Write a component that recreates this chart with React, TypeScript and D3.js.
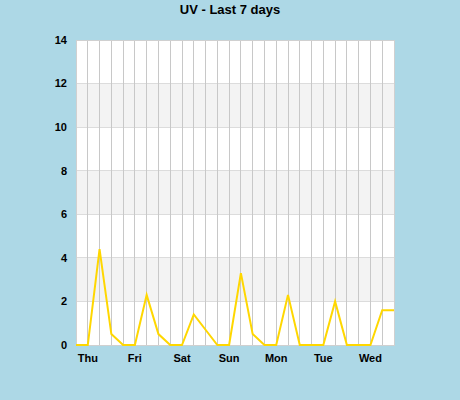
import { useMemo } from "react";
import * as d3 from "d3";

const WIDTH = 460;
const HEIGHT = 400;
const MARGIN = { top: 40, right: 66, bottom: 55, left: 76 };

// 6-hourly UV readings, starting Thursday
const uvValues = [
  0, 0, 4.4, 0.5, 0, 0, 2.3, 0.5, 0, 0, 1.4, 0.7, 0, 0, 3.3, 0.5, 0, 0, 2.3, 0,
  0, 0, 2.0, 0, 0, 0, 1.6, 1.6,
];
const dayLabels = ["Thu", "Fri", "Sat", "Sun", "Mon", "Tue", "Wed"];
const yTicks = [0, 2, 4, 6, 8, 10, 12, 14];

export default function App() {
  const boundsWidth = WIDTH - MARGIN.left - MARGIN.right;
  const boundsHeight = HEIGHT - MARGIN.top - MARGIN.bottom;

  const xScale = useMemo(
    () =>
      d3
        .scaleLinear()
        .domain([0, uvValues.length - 1])
        .range([0, boundsWidth]),
    [boundsWidth]
  );

  const yScale = useMemo(
    () => d3.scaleLinear().domain([0, 14]).range([boundsHeight, 0]),
    [boundsHeight]
  );

  const linePath = d3
    .line<number>()
    .x((_, i) => xScale(i))
    .y((d) => yScale(d))(uvValues);

  // grey bands between 2-4, 6-8, 10-12
  const bands = yTicks.slice(0, -1).filter((_, i) => i % 2 === 1);

  const font = "'Liberation Sans', Arial, sans-serif";

  return (
    <svg
      width={WIDTH}
      height={HEIGHT}
      style={{ position: "absolute", left: 0, top: 0 }}
    >
      <rect width={WIDTH} height={HEIGHT} fill="#add8e6" />
      <text
        x={WIDTH / 2}
        y={14}
        textAnchor="middle"
        fontFamily={font}
        fontWeight="bold"
        fontSize={13}
        fill="#000"
      >
        UV - Last 7 days
      </text>
      <g transform={`translate(${MARGIN.left},${MARGIN.top})`}>
        <rect width={boundsWidth} height={boundsHeight} fill="#fff" />
        {bands.map((b) => (
          <rect
            key={b}
            x={0}
            y={yScale(b + 2)}
            width={boundsWidth}
            height={yScale(b) - yScale(b + 2)}
            fill="#f3f3f3"
            shapeRendering="crispEdges"
          />
        ))}
        {yTicks.map((t) => (
          <line
            key={t}
            x1={0}
            x2={boundsWidth}
            y1={yScale(t)}
            y2={yScale(t)}
            stroke="#dcdcdc"
            shapeRendering="crispEdges"
          />
        ))}
        {uvValues.map((_, i) => (
          <line
            key={i}
            x1={xScale(i)}
            x2={xScale(i)}
            y1={0}
            y2={boundsHeight}
            stroke="#c8c8c8"
            shapeRendering="crispEdges"
          />
        ))}
        <rect
          width={boundsWidth}
          height={boundsHeight}
          fill="none"
          stroke="#d0d0d0"
          shapeRendering="crispEdges"
        />
        <path
          d={linePath ?? ""}
          fill="none"
          stroke="#ffd700"
          strokeWidth={2}
          strokeLinejoin="miter"
        />
        {yTicks.map((t) => (
          <text
            key={t}
            x={-9}
            y={yScale(t)}
            dy="0.35em"
            textAnchor="end"
            fontFamily={font}
            fontWeight="bold"
            fontSize={11}
            fill="#000"
          >
            {t}
          </text>
        ))}
        {dayLabels.map((d, i) => (
          <text
            key={d}
            x={xScale(1 + i * 4)}
            y={boundsHeight + 17}
            textAnchor="middle"
            fontFamily={font}
            fontWeight="bold"
            fontSize={11}
            fill="#000"
          >
            {d}
          </text>
        ))}
      </g>
    </svg>
  );
}
